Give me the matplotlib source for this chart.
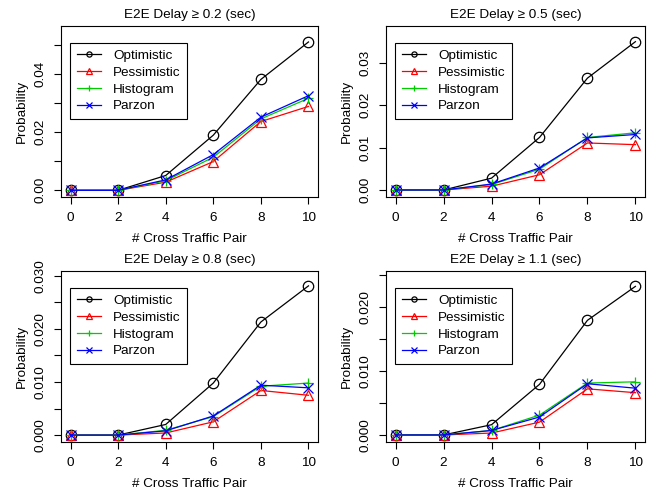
import matplotlib
matplotlib.use("Agg")
import matplotlib.pyplot as plt
from matplotlib.ticker import FixedLocator

plt.rcParams['font.family'] = ['Liberation Sans', 'DejaVu Sans']

x = [0, 2, 4, 6, 8, 10]
titles = ["E2E Delay \u2265 0.2 (sec)", "E2E Delay \u2265 0.5 (sec)",
          "E2E Delay \u2265 0.8 (sec)", "E2E Delay \u2265 1.1 (sec)"]
series_names = ["Optimistic", "Pessimistic", "Histogram", "Parzon"]

optimistic = [
    [0, 0, 0.0051, 0.0190, 0.0382, 0.0511],
    [0, 0, 0.0028, 0.0124, 0.0264, 0.0350],
    [0, 0, 0.0020, 0.0098, 0.0213, 0.0281],
    [0, 0, 0.0016, 0.0079, 0.0179, 0.0232],
]
pessimistic = [
    [0, 0, 0.0028, 0.0099, 0.0237, 0.0289],
    [0, 0, 0.0009, 0.0036, 0.0111, 0.0107],
    [0, 0, 0.0004, 0.0025, 0.0084, 0.0075],
    [0, 0, 0.0003, 0.0020, 0.0072, 0.0066],
]
histogram = [
    [0, 0, 0.0033, 0.0114, 0.0246, 0.0317],
    [0, 0, 0.0013, 0.0049, 0.0124, 0.0135],
    [0, 0, 0.0009, 0.0035, 0.0092, 0.0098],
    [0, 0, 0.0007, 0.0031, 0.0081, 0.0083],
]
parzon = [
    [0, 0, 0.0036, 0.0123, 0.0252, 0.0326],
    [0, 0, 0.0014, 0.0052, 0.0123, 0.0131],
    [0, 0, 0.0008, 0.0036, 0.0094, 0.0089],
    [0, 0, 0.0007, 0.0028, 0.0080, 0.0073],
]

ylims = [(-0.0023, 0.0566), (-0.00165, 0.0387), (-0.0013, 0.0309), (-0.0011, 0.0256)]
ytick_all = [[0, 0.01, 0.02, 0.03, 0.04, 0.05], [0, 0.01, 0.02, 0.03],
             [0, 0.005, 0.01, 0.015, 0.02, 0.025, 0.03], [0, 0.005, 0.01, 0.015, 0.02, 0.025]]
ytick_lab = [["0.00", "", "0.02", "", "0.04", ""], ["0.00", "0.01", "0.02", "0.03"],
             ["0.000", "", "0.010", "", "0.020", "", "0.030"],
             ["0.000", "", "0.010", "", "0.020", ""]]

colors = ["black", "#FF0000", "#00CC00", "#0000FF"]
markers = ["o", "^", "+", "x"]

W, H = 655, 494
fig = plt.figure(figsize=(6.55, 4.94), dpi=100)
boxes = [(61, 26, 318, 197), (386, 26, 645, 197), (61, 271, 318, 442), (386, 271, 645, 442)]

fs = 9.7
for i in range(4):
    x0, y0, x1, y1 = boxes[i]
    ax = fig.add_axes([x0 / W, 1 - y1 / H, (x1 - x0) / W, (y1 - y0) / H])
    data = [optimistic[i], pessimistic[i], histogram[i], parzon[i]]
    for d, c, m, n in zip(data, colors, markers, series_names):
        ax.plot(x, d, color=c, marker=m, markersize=7.5, markerfacecolor='none',
                markeredgecolor=c, markeredgewidth=0.9, linewidth=0.9, label=n)
    ax.set_xlim(-0.4, 10.4)
    ax.set_ylim(*ylims[i])
    ax.xaxis.set_major_locator(FixedLocator(x))
    ax.set_xticklabels([str(v) for v in x])
    ax.yaxis.set_major_locator(FixedLocator(ytick_all[i]))
    ax.set_yticklabels(ytick_lab[i], rotation=90, va='center')
    ax.tick_params(direction='out', length=5, width=0.8, labelsize=fs, pad=5.5)
    for s in ax.spines.values():
        s.set_linewidth(0.8)
    ax.set_title(titles[i], fontsize=fs, pad=6)
    ax.set_xlabel("# Cross Traffic Pair", fontsize=fs, labelpad=7)
    ax.set_ylabel("Probability", fontsize=fs, labelpad=4.5)
    leg = ax.legend(loc='upper left', bbox_to_anchor=(9 / (x1 - x0), 1 - 17 / (y1 - y0)),
                    borderaxespad=0, fontsize=fs, frameon=True, fancybox=False,
                    edgecolor='black', framealpha=1, markerscale=0.5,
                    handlelength=1.8, handletextpad=0.9, labelspacing=0.32,
                    borderpad=0.5)
    leg.get_frame().set_linewidth(0.8)

fig.savefig("out.png", dpi=100)
